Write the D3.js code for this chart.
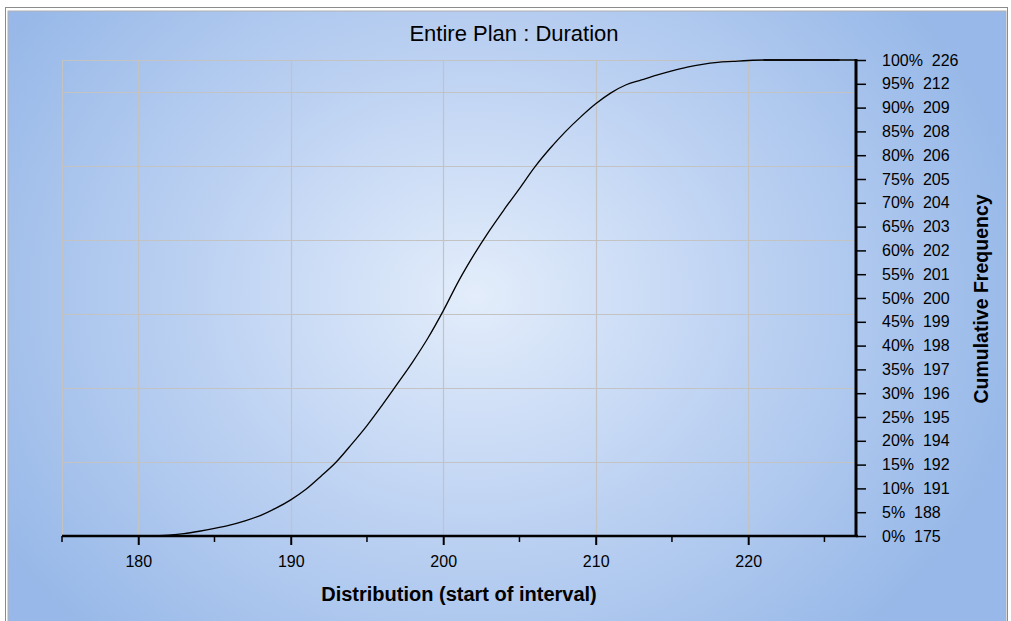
<!DOCTYPE html>
<html>

<head>
  <meta http-equiv="Content-Type" content="text/html;charset=utf-8" />
  <style type="text/css">
    body { margin: 0; background: #fff; }
    text { font-family: "Liberation Sans", Arial, sans-serif; fill: #000; }
    .pct text { white-space: pre; }
  </style>
</head>

<body>
  <div id="svgContainer"></div>
  <script src="https://d3js.org/d3.v7.min.js"></script>

  <script type="text/javascript">
    // chart values
    var titleText = "Entire Plan : Duration";
    var xTitle = "Distribution (start of interval)";
    var yTitle = "Cumulative Frequency";

    var durations = [180.5, 182, 183, 184, 185, 186, 187, 188, 189, 190, 191, 192, 193, 194, 195, 196, 197, 198, 199, 200,
      201, 202, 203, 204, 205, 206, 207, 208, 209, 210, 211, 212, 213, 214, 215, 216, 217, 218, 219, 220, 221, 226];
    var cumPct = [0, 0.2, 0.5, 1.0, 1.6, 2.3, 3.2, 4.3, 5.8, 7.6, 9.8, 12.6, 15.6, 19.3, 23.2, 27.5, 32.0, 36.6, 41.6, 47.3,
      53.5, 59.0, 64.0, 68.6, 73.0, 77.5, 81.4, 84.9, 88.0, 90.8, 93.1, 94.8, 95.8, 96.8, 97.7, 98.5, 99.1, 99.5, 99.7, 99.9, 100, 100];

    var xMajorTicks = [180, 190, 200, 210, 220];
    var xMinorTicks = [175, 185, 195, 205, 215, 225];
    var pctTicks = [0, 5, 10, 15, 20, 25, 30, 35, 40, 45, 50, 55, 60, 65, 70, 75, 80, 85, 90, 95, 100];
    var pctValues = [175, 188, 191, 192, 194, 195, 196, 197, 198, 199, 200, 201, 202, 203, 204, 205, 206, 208, 209, 212, 226];
    // hidden frequency axis that the horizontal grid belongs to
    var freqGrid = [1, 2, 3, 4, 5, 6];
    var freqMax = 6.428;

    var w = 1011, h = 621;
    var plotLeft = 62, plotRight = 856, plotTop = 60, plotBottom = 536;

    var svg = d3.select("#svgContainer")
      .append("svg")
      .attr("width", w)
      .attr("height", h);

    var defs = svg.append("defs");
    var grad = defs.append("radialGradient")
      .attr("id", "bg")
      .attr("gradientUnits", "userSpaceOnUse")
      .attr("cx", 475).attr("cy", 295).attr("r", 560)
      .attr("gradientTransform", "translate(475,295) scale(1,0.85) translate(-475,-295)");
    grad.append("stop").attr("offset", "0").attr("stop-color", "#e3edfb");
    grad.append("stop").attr("offset", "0.45").attr("stop-color", "#c0d4f3");
    grad.append("stop").attr("offset", "1").attr("stop-color", "#97b8e8");

    // frame + panel
    svg.append("rect").attr("x", 5.5).attr("y", 7.5).attr("width", 1002).attr("height", 620)
      .attr("fill", "none").attr("stroke", "#8c8c8c");
    svg.append("rect").attr("x", 8).attr("y", 11).attr("width", 998).attr("height", 612)
      .attr("fill", "url(#bg)").attr("stroke", "#b0b0b0");

    var xScale = d3.scaleLinear().domain([175, 227.07]).range([plotLeft, plotRight]);
    var yScale = d3.scaleLinear().domain([0, 100]).range([plotBottom, plotTop]);
    var fScale = d3.scaleLinear().domain([0, freqMax]).range([plotBottom, plotTop]);

    // grid
    var grid = svg.append("g").attr("stroke", "#c3c3c3").attr("stroke-width", 1.2);
    grid.selectAll(".hg").data(freqGrid).enter().append("line")
      .attr("x1", plotLeft).attr("x2", plotRight)
      .attr("y1", function (d) { return Math.round(fScale(d)) + 0.5; })
      .attr("y2", function (d) { return Math.round(fScale(d)) + 0.5; });
    grid.selectAll(".vg").data([175].concat(xMajorTicks)).enter().append("line")
      .attr("y1", plotTop).attr("y2", plotBottom)
      .attr("x1", function (d) { return Math.round(xScale(d)) + 0.5; })
      .attr("x2", function (d) { return Math.round(xScale(d)) + 0.5; });
    grid.append("line").attr("x1", plotLeft).attr("x2", plotRight).attr("y1", plotTop + 0.5).attr("y2", plotTop + 0.5);

    // curve
    var data = durations.map(function (d, i) { return [d, cumPct[i]]; });
    var line = d3.line()
      .x(function (d) { return xScale(d[0]); })
      .y(function (d) { return yScale(d[1]); })
      .curve(d3.curveMonotoneX);
    svg.append("path")
      .attr("d", line(data))
      .attr("fill", "none")
      .attr("stroke", "#000")
      .attr("stroke-width", 1.3);
    svg.append("line")
      .attr("x1", xScale(221)).attr("x2", plotRight)
      .attr("y1", yScale(100)).attr("y2", yScale(100))
      .attr("stroke", "#000").attr("stroke-width", 1.3);

    // bottom axis
    var xAxis = svg.append("g").attr("transform", "translate(0," + plotBottom + ")");
    xAxis.call(d3.axisBottom(xScale).tickValues(xMajorTicks).tickSize(9).tickPadding(11).tickFormat(d3.format("d")));
    xAxis.select(".domain").remove();
    xAxis.selectAll(".tick line").attr("stroke", "#000").attr("stroke-width", 2);
    xAxis.selectAll(".tick text").attr("font-size", 16).attr("font-family", "'Liberation Sans', Arial, sans-serif").attr("fill", "#000");
    xAxis.selectAll(".minor").data(xMinorTicks).enter().append("line")
      .attr("x1", function (d) { return xScale(d); }).attr("x2", function (d) { return xScale(d); })
      .attr("y1", 0).attr("y2", 6)
      .attr("stroke", "#000").attr("stroke-width", 1.5);
    xAxis.append("line").attr("x1", plotLeft).attr("x2", plotRight + 2).attr("y1", 0).attr("y2", 0)
      .attr("stroke", "#000").attr("stroke-width", 2.5);

    // right axis
    var yAxis = svg.append("g").attr("class", "pct").attr("transform", "translate(" + plotRight + ",0)");
    yAxis.call(d3.axisRight(yScale).tickValues(pctTicks).tickSize(10).tickPadding(16)
      .tickFormat(function (d, i) { return d + "%  " + pctValues[i]; }));
    yAxis.select(".domain").remove();
    yAxis.selectAll(".tick line").attr("stroke", "#000").attr("stroke-width", 1.5);
    yAxis.selectAll(".tick text").attr("font-size", 16).attr("font-family", "'Liberation Sans', Arial, sans-serif").attr("fill", "#111");
    yAxis.append("line").attr("x1", 0).attr("x2", 0).attr("y1", plotTop - 1).attr("y2", plotBottom + 1)
      .attr("stroke", "#000").attr("stroke-width", 3);

    // titles
    svg.append("text").attr("x", 514).attr("y", 41).attr("text-anchor", "middle")
      .attr("font-size", 22).attr("fill", "#0a0a30").text(titleText);
    svg.append("text").attr("x", 459).attr("y", 601).attr("text-anchor", "middle")
      .attr("font-size", 20).attr("font-weight", "bold").text(xTitle);
    svg.append("text").attr("transform", "translate(988,299) rotate(-90)").attr("text-anchor", "middle")
      .attr("font-size", 19.5).attr("font-weight", "bold").text(yTitle);
  </script>
</body>

</html>
